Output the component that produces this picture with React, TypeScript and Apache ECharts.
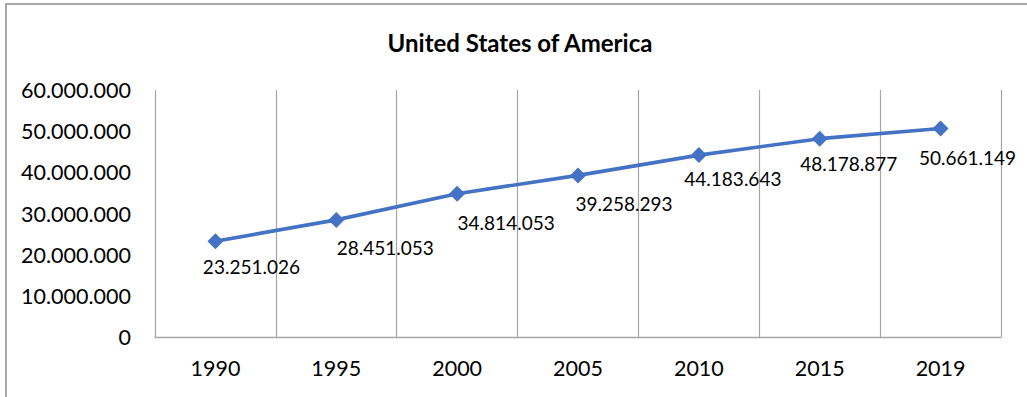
import React, { useEffect, useRef } from "react";
import * as echarts from "echarts";

const titleText = "United States of America";
const years = ["1990", "1995", "2000", "2005", "2010", "2015", "2019"];
const population = [23251026, 28451053, 34814053, 39258293, 44183643, 48178877, 50661149];
const yTicks = { min: 0, max: 60000000, interval: 10000000 };
// label nudges (dx, dy) relative to each marker, as placed in the reference
const labelNudges: [number, number][] = [
  [36, 25],
  [49, 28],
  [49, 29],
  [46, 28],
  [34, 23],
  [29, 25],
  [27, 29],
];

const fmt = (v: number) =>
  Math.round(v)
    .toString()
    .replace(/\B(?=(\d{3})+(?!\d))/g, ".");

const FONT = "Lato";

export default function App() {
  const ref = useRef<HTMLDivElement>(null);
  useEffect(() => {
    if (!ref.current) return;
    const chart = echarts.init(ref.current, undefined, { renderer: "svg" });
    chart.setOption({
      animation: false,
      backgroundColor: "#ffffff",
      textStyle: { fontFamily: FONT },
      graphic: [
        {
          type: "rect",
          shape: { x: 6, y: 4, width: 1200, height: 600 },
          style: { fill: "none", stroke: "#8c8c8c", lineWidth: 1.5 },
          silent: true,
        },
        {
          type: "text",
          x: 520,
          y: 42,
          style: {
            text: titleText,
            fontFamily: FONT,
            fontWeight: "bold",
            fontSize: 24,
            fill: "#000000",
            textAlign: "center",
            textVerticalAlign: "middle",
          },
        },
      ],
      grid: { left: 155, right: 26, top: 90, bottom: 60, containLabel: false },
      xAxis: {
        type: "category",
        data: years,
        boundaryGap: true,
        axisLine: { show: true, lineStyle: { color: "#a6a6a6", width: 1.3 } },
        axisTick: { show: false },
        splitLine: { show: true, lineStyle: { color: "#a6a6a6", width: 1.2 } },
        axisLabel: {
          color: "#000000",
          fontFamily: FONT,
          fontSize: 21.5,
          margin: 20,
          interval: 0,
        },
      },
      yAxis: {
        type: "value",
        min: yTicks.min,
        max: yTicks.max,
        interval: yTicks.interval,
        axisLine: { show: false },
        axisTick: { show: false },
        splitLine: { show: false },
        axisLabel: {
          color: "#000000",
          fontFamily: FONT,
          fontSize: 21.5,
          margin: 24,
          formatter: (v: number) => fmt(v),
        },
      },
      series: [
        {
          type: "line",
          data: population.map((v, i) => ({
            value: v,
            label: { offset: labelNudges[i] },
          })),
          symbol: "diamond",
          symbolSize: 16,
          itemStyle: { color: "#4472C4" },
          lineStyle: { color: "#4472C4", width: 3.6 },
          label: {
            show: true,
            position: "inside",
            color: "#000000",
            fontFamily: FONT,
            fontSize: 19,
            formatter: (p: any) => fmt(p.value),
          },
        },
      ],
    });
    return () => chart.dispose();
  }, []);
  return (
    <div
      ref={ref}
      style={{ position: "fixed", left: 0, top: 0, width: 1027, height: 397 }}
    />
  );
}
